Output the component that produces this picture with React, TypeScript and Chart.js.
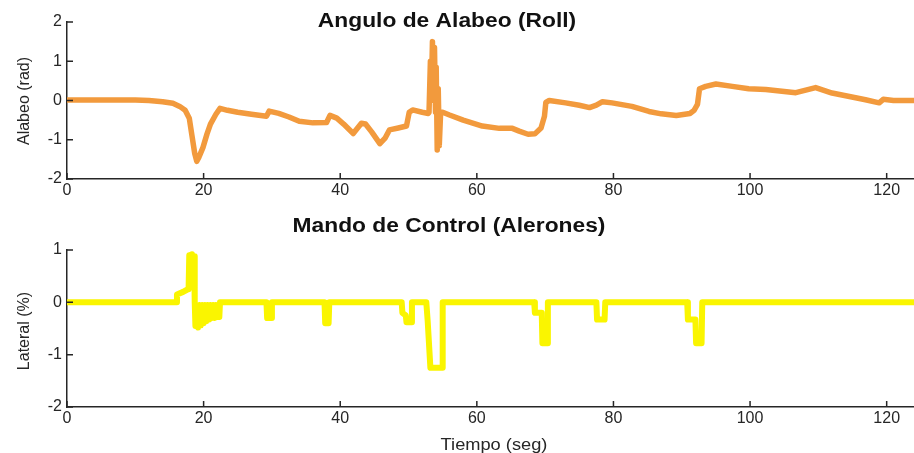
import { useEffect, useRef } from "react";
import { Chart, registerables } from "chart.js";

Chart.register(...registerables);

// Roll angle (rad) over time (s)
const rollTime = [
  0, 5, 10, 12, 14, 15.5, 16.5, 17.3, 17.9, 18.3, 18.7, 19.0, 19.3, 19.9, 20.5, 21.0,
  21.8, 22.4, 23.5, 25, 27, 29.2, 29.6, 31, 32.5, 34, 36, 38, 38.5, 39.5, 40.5, 41.9,
  43.1, 43.7, 44.6, 45.8, 46.6, 47.2, 48.5, 49.7, 50.1, 50.6, 52, 52.9, 53.0, 53.2,
  53.35, 53.5, 53.65, 53.8, 53.95, 54.05, 54.2, 54.35, 54.5, 54.7, 55, 56, 58, 60.8,
  63.3, 65.2, 66.2, 67.5, 68.5, 69.4, 69.9, 70.1, 70.6, 73, 75, 76.5, 77.5, 78.4, 79.8,
  82.7, 85.2, 87, 89.2, 91.2, 91.8, 92.3, 92.6, 93.5, 95, 97.4, 99.8, 102.3, 106.7,
  109.6, 112, 114, 116.9, 118.9, 119.5, 121, 124,
];
const rollRad = [
  0.01, 0.01, 0.01, 0.0, -0.03, -0.07, -0.15, -0.25, -0.45, -0.9, -1.35, -1.55, -1.45,
  -1.2, -0.85, -0.6, -0.35, -0.2, -0.25, -0.3, -0.35, -0.4, -0.27, -0.33, -0.42, -0.53,
  -0.57, -0.56, -0.38, -0.45, -0.6, -0.84, -0.58, -0.6, -0.8, -1.1, -0.95, -0.75, -0.7,
  -0.65, -0.3, -0.24, -0.3, -0.33, -0.3, 1.0, 0.2, 1.5, 0.0, 1.35, -0.3, 0.85, -1.26,
  0.3, -1.15, -0.3, -0.3, -0.37, -0.5, -0.65, -0.71, -0.71, -0.78, -0.86, -0.85, -0.7,
  -0.4, -0.05, 0.0, -0.06, -0.12, -0.18, -0.12, -0.03, -0.06, -0.15, -0.28, -0.34,
  -0.38, -0.33, -0.25, -0.1, 0.3, 0.36, 0.42, 0.36, 0.3, 0.28, 0.2, 0.33, 0.19, 0.12,
  0.02, -0.06, 0.03, 0.0, 0.0,
];

// Lateral stick command (%) over time (s)
const aileronTime = [
  0, 16.0, 16.1, 17.0, 17.7, 17.8, 17.9, 18.1, 18.3, 18.5, 18.6, 18.7, 18.8, 19.0,
  19.2, 19.4, 19.6, 19.8, 20.0, 20.2, 20.4, 20.6, 20.8, 21.0, 21.2, 21.4, 21.6, 21.8,
  22.0, 22.2, 22.3, 22.4, 29.2, 29.3, 29.9, 30.0, 37.7, 37.8, 38.3, 38.4, 49.0, 49.1,
  49.6, 49.7, 50.4, 50.5, 52.6, 52.8, 53.2, 54.9, 55.0, 68.4, 68.5, 69.5, 69.6, 70.3,
  70.4, 77.5, 77.6, 78.7, 78.8, 90.8, 90.9, 92.0, 92.1, 92.9, 93.0, 124,
];
const aileronPct = [
  0, 0, 0.15, 0.2, 0.25, 0.25, 0.9, 0.3, 0.92, 0.3, 0.88, 0, -0.45, -0.05, -0.48,
  -0.05, -0.44, -0.05, -0.4, -0.05, -0.36, -0.05, -0.33, -0.05, -0.3, -0.05, -0.3,
  -0.05, -0.28, -0.05, -0.28, 0, 0, -0.3, -0.3, 0, 0, -0.4, -0.4, 0, 0, -0.2, -0.25,
  -0.38, -0.38, 0, 0, -0.35, -1.25, -1.25, 0, 0, -0.2, -0.2, -0.78, -0.78, 0, 0, -0.33,
  -0.33, 0, 0, -0.33, -0.33, -0.78, -0.78, 0, 0,
];

const timeTicks = [0, 20, 40, 60, 80, 100, 120];
const rollTicks = [-2, -1, 0, 1, 2];
const aileronTicks = [-2, -1, 0, 1];

const FONT = '"Liberation Sans", Arial, Helvetica, sans-serif';
const INK = "#262626";
const STRETCH = 1.14;

type Decor = {
  title: string;
  titleX: number;
  titleY: number;
  ylabel: string;
  ylabelX: number;
  ylabelY: number;
  xlabel?: string;
  xlabelX?: number;
  xlabelY?: number;
};

// Inward tick marks plus the title and axis labels
const axesDecor = {
  id: "axesDecor",
  afterDraw(chart: any, _args: any, opts: Decor) {
    const { ctx, chartArea: a, scales } = chart;
    ctx.save();
    ctx.strokeStyle = INK;
    ctx.lineWidth = 1.5;
    ctx.beginPath();
    scales.x.ticks.forEach((t: any) => {
      const px = scales.x.getPixelForValue(t.value);
      ctx.moveTo(px, a.bottom);
      ctx.lineTo(px, a.bottom - 6);
    });
    scales.y.ticks.forEach((t: any) => {
      const py = scales.y.getPixelForValue(t.value);
      ctx.moveTo(a.left, py);
      ctx.lineTo(a.left + 6, py);
    });
    ctx.stroke();

    ctx.fillStyle = "#111";
    ctx.textAlign = "center";
    ctx.textBaseline = "alphabetic";

    ctx.font = `bold 20px ${FONT}`;
    ctx.save();
    ctx.translate(opts.titleX, opts.titleY);
    ctx.scale(STRETCH, 1);
    ctx.fillText(opts.title, 0, 0);
    ctx.restore();

    ctx.fillStyle = INK;
    ctx.font = `16px ${FONT}`;
    ctx.save();
    ctx.translate(opts.ylabelX, opts.ylabelY);
    ctx.rotate(-Math.PI / 2);
    ctx.fillText(opts.ylabel, 0, 0);
    ctx.restore();

    if (opts.xlabel) {
      ctx.save();
      ctx.translate(opts.xlabelX as number, opts.xlabelY as number);
      ctx.scale(STRETCH, 1);
      ctx.fillText(opts.xlabel, 0, 0);
      ctx.restore();
    }
    ctx.restore();
  },
};

function makeChart(
  canvas: HTMLCanvasElement,
  times: number[],
  values: number[],
  color: string,
  lineWidth: number,
  yMin: number,
  yMax: number,
  yTicks: number[],
  padTop: number,
  xAxisHeight: number,
  decor: Decor
) {
  const points = times.map((t, i) => ({ x: t, y: values[i] }));
  return new Chart(canvas, {
    type: "line",
    data: {
      datasets: [
        {
          data: points,
          borderColor: color,
          borderWidth: lineWidth,
          pointRadius: 0,
          tension: 0,
          borderJoinStyle: "round",
          fill: false,
        },
      ],
    },
    plugins: [axesDecor],
    options: {
      responsive: false,
      animation: false,
      devicePixelRatio: 1,
      layout: { padding: { top: padTop, left: 0, right: 0, bottom: 0 } },
      plugins: {
        legend: { display: false },
        tooltip: { enabled: false },
        title: { display: false },
        axesDecor: decor,
      } as any,
      scales: {
        x: {
          type: "linear",
          min: 0,
          max: 124,
          afterBuildTicks: (axis: any) => {
            axis.ticks = timeTicks.map((v) => ({ value: v }));
          },
          afterFit: (axis: any) => {
            axis.height = xAxisHeight;
          },
          grid: { display: false, drawTicks: false },
          border: { display: true, color: INK, width: 1.5 },
          ticks: {
            color: INK,
            padding: 2,
            maxRotation: 0,
            font: { family: FONT, size: 16 },
          },
        },
        y: {
          type: "linear",
          min: yMin,
          max: yMax,
          afterBuildTicks: (axis: any) => {
            axis.ticks = yTicks.map((v) => ({ value: v }));
          },
          afterFit: (axis: any) => {
            axis.width = 67;
          },
          grid: { display: false, drawTicks: false },
          border: { display: true, color: INK, width: 1.5 },
          ticks: {
            color: INK,
            padding: 5,
            font: { family: FONT, size: 16 },
          },
        },
      },
    },
  });
}

export default function App() {
  const topRef = useRef<HTMLCanvasElement | null>(null);
  const bottomRef = useRef<HTMLCanvasElement | null>(null);

  useEffect(() => {
    if (!topRef.current || !bottomRef.current) return;
    const top = makeChart(
      topRef.current,
      rollTime,
      rollRad,
      "#F29A3D",
      5.5,
      -2,
      2,
      rollTicks,
      22,
      26,
      {
        title: "Angulo de Alabeo (Roll)",
        titleX: 447,
        titleY: 27,
        ylabel: "Alabeo (rad)",
        ylabelX: 29,
        ylabelY: 101,
      }
    );
    const bottom = makeChart(
      bottomRef.current,
      aileronTime,
      aileronPct,
      "#FAF500",
      6,
      -2,
      1,
      aileronTicks,
      45,
      46,
      {
        title: "Mando de Control (Alerones)",
        titleX: 449,
        titleY: 26.5,
        ylabel: "Lateral (%)",
        ylabelX: 29,
        ylabelY: 126,
        xlabel: "Tiempo (seg)",
        xlabelX: 494,
        xlabelY: 245,
      }
    );
    return () => {
      top.destroy();
      bottom.destroy();
    };
  }, []);

  return (
    <div
      style={{
        position: "fixed",
        left: 0,
        top: 0,
        width: 914,
        height: 453,
        background: "#fff",
      }}
    >
      <canvas ref={topRef} width={914} height={205} style={{ display: "block" }} />
      <canvas ref={bottomRef} width={914} height={248} style={{ display: "block" }} />
    </div>
  );
}
